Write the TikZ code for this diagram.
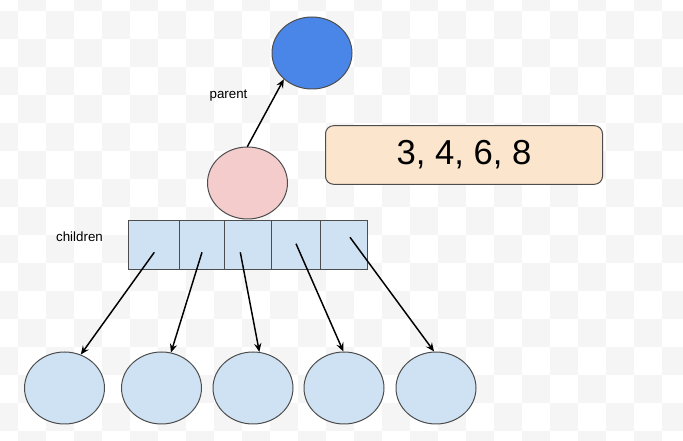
\documentclass[tikz,border=0pt]{standalone}
\usepackage{fontspec}
\setmainfont{Liberation Sans}
\usetikzlibrary{arrows.meta,shapes.geometric}
\definecolor{checker}{HTML}{F5F5F5}
\definecolor{strokegray}{HTML}{4D4D4D}
\definecolor{parentblue}{HTML}{4A86E8}
\definecolor{selfpink}{HTML}{F4CCCC}
\definecolor{childblue}{HTML}{CFE2F3}
\definecolor{keyorange}{HTML}{FCE5CD}
\tikzset{
  ell/.style={draw=strokegray, line width=0.75pt, ellipse, minimum width=60pt, minimum height=54pt, inner sep=0pt},
  cellbox/.style={draw=strokegray, line width=0.75pt, fill=childblue, minimum height=36.4pt, inner sep=0pt},
  arr/.style={draw=black, line width=1.1pt, -{Stealth[length=6.5pt, width=5.5pt, inset=2.3pt]}},
  lbl/.style={font=\fontsize{10}{12}\selectfont, inner sep=0pt}
}
\begin{document}
\begin{tikzpicture}[x=0.75pt, y=-0.75pt]
\useasboundingbox (0,0) rectangle (683,441);
\fill[white] (0,0) rectangle (683,441);
\begin{scope}
\clip (0,0) rectangle (683,441);
\foreach \i in {-1,...,24}{
  \foreach \j in {-1,...,15}{
    \pgfmathtruncatemacro{\parity}{mod(\i+\j+100,2)}
    \ifnum\parity=1
      \fill[checker] ({18.3+28*\i},{11+28*\j}) rectangle ++(28,28);
    \fi
  }
}
\end{scope}
% nodes
\node[ell, fill=parentblue] (parent) at (312,53) {};
\node[ell, fill=selfpink] (self) at (247.5,183) {};
\node[draw=strokegray, line width=0.75pt, fill=keyorange, rounded corners=6pt,
      minimum width=207.75pt, minimum height=43.9pt, inner sep=0pt,
      font=\fontsize{26}{30}\selectfont] (keys) at (464,155) {3, 4, 6, 8};
% children array
\node[cellbox, minimum width=38.25pt] (c1) at (153.5,245) {};
\node[cellbox, minimum width=33.75pt] (c2) at (201.5,245) {};
\node[cellbox, minimum width=35.25pt] (c3) at (247.5,245) {};
\node[cellbox, minimum width=36.75pt] (c4) at (295.5,245) {};
\node[cellbox, minimum width=35.25pt] (c5) at (343.5,245) {};
% child ellipses
\node[ell, fill=childblue] (k1) at (64.5,388) {};
\node[ell, fill=childblue] (k2) at (161.5,388) {};
\node[ell, fill=childblue] (k3) at (253,388) {};
\node[ell, fill=childblue] (k4) at (344,388) {};
\node[ell, fill=childblue] (k5) at (436,388) {};
% labels
\node[lbl] (plabel) at (228.5,96) {parent};
\node[lbl] (clabel) at (79.5,237) {children};
% arrow start points
\coordinate (s0) at (247.3,146.7);
\coordinate (s1) at (154.3,252.3);
\coordinate (s2) at (202,252.3);
\coordinate (s3) at (240.3,252.3);
\coordinate (s4) at (296,243.7);
\coordinate (s5) at (350,237.3);
\draw[arr] (s0) -- (parent.223.4);
\draw[arr] (s1) -- (k1.64);
\draw[arr] (s2) -- (k2.75);
\draw[arr] (s3) -- (k3.80.5);
\draw[arr] (s4) -- (k4.91.6);
\draw[arr] (s5) -- (k5.93);
\end{tikzpicture}
\end{document}
